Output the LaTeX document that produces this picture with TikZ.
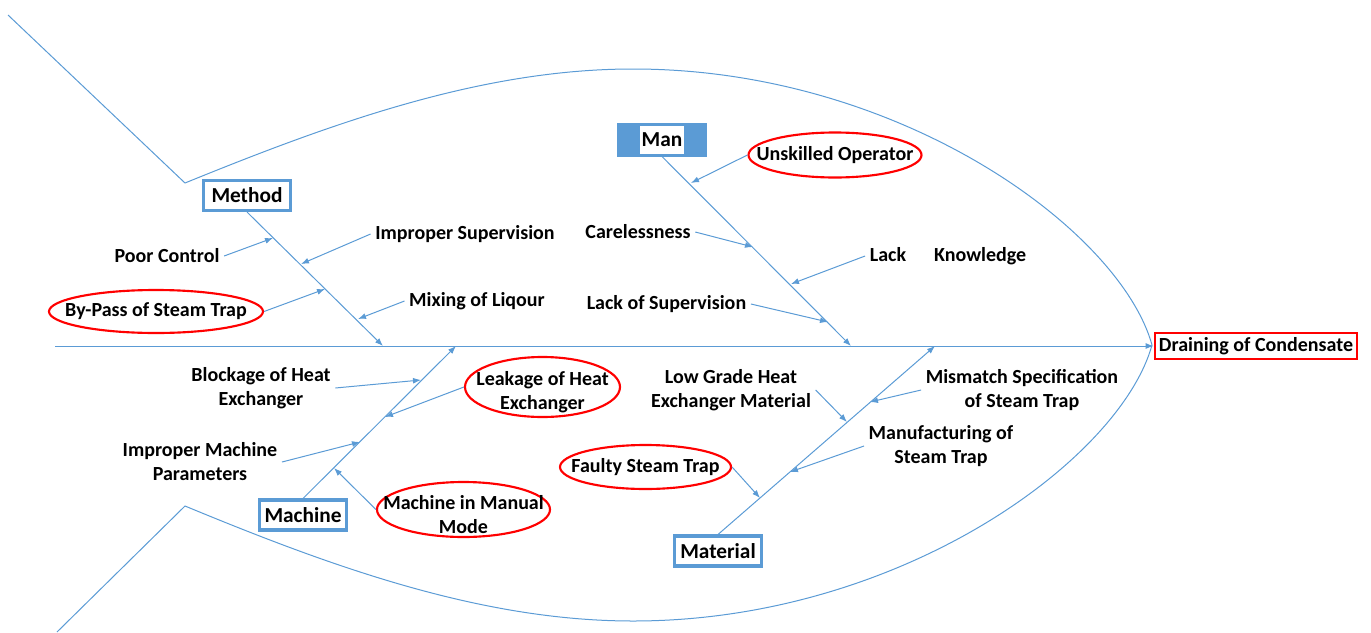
\documentclass[tikz,border=0pt]{standalone}
\usepackage{fontspec}
\setmainfont{Carlito}
\usetikzlibrary{arrows.meta,shapes.geometric}
\definecolor{fishblue}{RGB}{91,155,213}
\setlength{\fboxsep}{1pt}

\begin{document}
\begin{tikzpicture}[x=0.75pt,y=-0.75pt,
  font=\fontsize{15}{18}\selectfont\bfseries,
  bone/.style={draw=fishblue,line width=0.75pt},
  cause/.style={bone,-{Latex[length=6pt,width=4.5pt]}},
  catbox/.style={rectangle,draw=fishblue,line width=2.5pt,fill=white,minimum width=65pt,minimum height=22.3pt,inner sep=0pt,font=\fontsize{16}{19}\selectfont\bfseries},
  redoval/.style={ellipse,draw=red,line width=1.6pt,inner sep=0pt}]
\useasboundingbox (0,0) rectangle (1371,632);

% fish outline
\draw[bone] (8,15) -- (185,183) .. controls (330,124) and (480,69) .. (633,69) .. controls (900,69) and (1120,230) .. (1152,345);
\draw[bone] (57,632) -- (185,506) .. controls (330,566) and (480,621) .. (633,621) .. controls (900,621) and (1120,460) .. (1152,345);

% head and spine
\node[rectangle,draw=red,line width=2pt,fill=white,inner xsep=3pt,minimum height=19pt] (drain) at (1256,346) {Draining of Condensate};
\coordinate (spinestart) at (55,346);
\draw[cause] (spinestart) -- (drain.west);

% categories
\node[catbox] (method) at (247,195.5) {Method};
\node[catbox,fill=fishblue] (man) at (662,140) {\colorbox{white}{\rule[-5pt]{0pt}{19pt}Man}};
\node[catbox] (machine) at (303,515) {Machine};
\node[catbox] (material) at (718,551) {Material};

\coordinate (methodend) at (383,346);
\coordinate (manend) at (851,346);
\coordinate (machineend) at (456,346);
\coordinate (materialend) at (935,346);
\draw[cause] (method.south) -- (methodend);
\draw[cause] (man.south) -- (manend);
\draw[cause] (machine.north) -- (machineend);
\draw[cause] (material.north) -- (materialend);

% method
\node (poorctl) at (167,256) {Poor Control};
\node (impsup) at (465,234) {Improper Supervision};
\node[redoval,minimum width=160.5pt,minimum height=32.25pt,label=center:By-Pass of Steam Trap] (bypass) at (156,311.5) {};
\node (mixing) at (477,301) {Mixing of Liqour};
\coordinate (poorctlpt) at (273,238);
\coordinate (impsuppt) at (301,264);
\coordinate (bypasspt) at (325,289);
\coordinate (mixingpt) at (358,319);
\draw[cause] (poorctl.east) -- (poorctlpt);
\draw[cause] (impsup.west) -- (impsuppt);
\draw[cause] (bypass.east) -- (bypasspt);
\draw[cause] (mixing.west) -- (mixingpt);

% man
\node[redoval,minimum width=129.75pt,minimum height=33.75pt,label=center:Unskilled Operator] (unskill) at (835,155) {};
\node (careless) at (638,232) {Carelessness};
\node (lackknow) at (948,256) {Lack\hspace{21pt}Knowledge};
\node (lacksup) at (666.5,304) {Lack of Supervision};
\coordinate (unskillpt) at (691,183);
\coordinate (carelesspt) at (753,247);
\coordinate (lackknowpt) at (791,284);
\coordinate (lacksuppt) at (828,322);
\draw[cause] (unskill.west) -- (unskillpt);
\draw[cause] (careless.east) -- (carelesspt);
\draw[cause] (lackknow.west) -- (lackknowpt);
\draw[cause] (lacksup.east) -- (lacksuppt);

% machine
\node[align=center] (blockage) at (261,388) {Blockage of Heat\\Exchanger};
\node[redoval,minimum width=116.25pt,minimum height=45pt,label={[align=center,yshift=-3.75pt]center:{Leakage of Heat\\Exchanger}}] (leakage) at (542.5,387) {};
\node[align=center] (impmach) at (200,462) {Improper Machine\\Parameters};
\node[redoval,minimum width=129.75pt,minimum height=41.25pt,label={[align=center,yshift=-3.75pt]center:{Machine in Manual\\Mode}}] (manual) at (463.5,509.5) {};
\coordinate (blockagept) at (421,380);
\coordinate (leakagept) at (385,417);
\coordinate (impmachpt) at (360,442);
\coordinate (manualpt) at (334,468);
\draw[cause] (blockage.east) -- (blockagept);
\draw[cause] (leakage.west) -- (leakagept);
\draw[cause] (impmach.east) -- (impmachpt);
\draw[cause] (manual.west) -- (manualpt);

% material
\node[align=center] (lowgrade) at (731,390) {Low Grade Heat\\Exchanger Material};
\node[align=center] (mismatch) at (1022,390) {Mismatch Specification\\of Steam Trap};
\node[align=center] (manufact) at (941,446) {Manufacturing of\\Steam Trap};
\node[redoval,minimum width=128.25pt,minimum height=33pt,label=center:Faulty Steam Trap] (faulty) at (645.5,467) {};
\coordinate (lowgradept) at (847,422);
\coordinate (mismatchpt) at (870,402);
\coordinate (manufactpt) at (790,472);
\coordinate (faultypt) at (760,498);
\draw[cause] (lowgrade.east) -- (lowgradept);
\draw[cause] (mismatch.west) -- (mismatchpt);
\draw[cause] (manufact.west) -- (manufactpt);
\draw[cause] (faulty.east) -- (faultypt);
\end{tikzpicture}
\end{document}
